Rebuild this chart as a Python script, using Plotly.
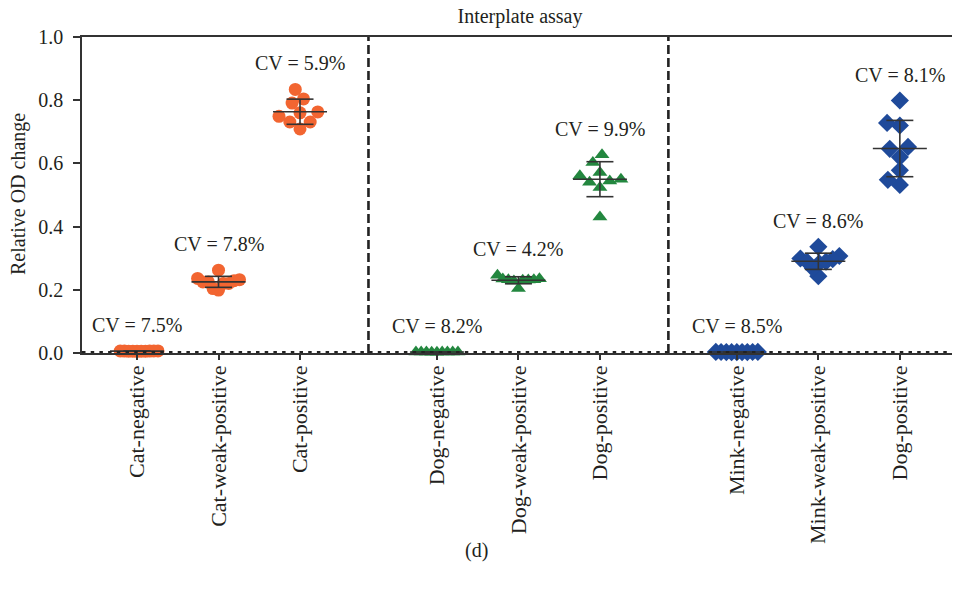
import numpy as np
import plotly.graph_objects as go

# ---------------- data ----------------
categories = ["Cat-negative", "Cat-weak-positive", "Cat-positive",
              "Dog-negative", "Dog-weak-positive", "Dog-positive",
              "Mink-negative", "Mink-weak-positive", "Dog-positive"]
group_sizes = [3, 3, 3]

cat_negative = [0.0062, 0.0058, 0.0066, 0.0055, 0.0060, 0.0064, 0.0052, 0.0059, 0.0063, 0.0057]
cat_weak_positive = [0.262, 0.236, 0.220, 0.225, 0.199, 0.225, 0.204, 0.229, 0.232, 0.220]
cat_positive = [0.834, 0.804, 0.791, 0.763, 0.760, 0.731, 0.731, 0.749, 0.709]
dog_negative = [0.0031, 0.0028, 0.0034, 0.0030, 0.0026, 0.0033, 0.0029, 0.0032, 0.0027]
dog_weak_positive = [0.246, 0.234, 0.232, 0.230, 0.204, 0.235, 0.232, 0.228, 0.231]
dog_positive = [0.627, 0.603, 0.571, 0.561, 0.544, 0.550, 0.540, 0.524, 0.430]
mink_negative = [0.0030, 0.0027, 0.0033, 0.0029, 0.0025, 0.0032, 0.0028, 0.0031, 0.0034]
mink_weak_positive = [0.336, 0.307, 0.284, 0.299, 0.243, 0.268, 0.289, 0.297, 0.289]
mink_dog_positive = [0.799, 0.720, 0.728, 0.646, 0.652, 0.620, 0.578, 0.532, 0.548]

series = [cat_negative, cat_weak_positive, cat_positive,
          dog_negative, dog_weak_positive, dog_positive,
          mink_negative, mink_weak_positive, mink_dog_positive]

cv_labels = ["CV = 7.5%", "CV = 7.8%", "CV = 5.9%",
             "CV = 8.2%", "CV = 4.2%", "CV = 9.9%",
             "CV = 8.5%", "CV = 8.6%", "CV = 8.1%"]

y_ticks = [0.0, 0.2, 0.4, 0.6, 0.8, 1.0]

# ---------------- layout constants ----------------
W, H = 953, 595
ML, MR, MT, MB = 82, 1, 37, 242
GROUP_GAP = 0.68
X_MIN, X_MAX = -0.675, 10.0
Y_MIN, Y_MAX = 0.0, 1.0

group_colors = ["#F26531", "#23873F", "#1F4A9A"]
group_symbols = ["circle", "triangle-up", "diamond"]
group_msize = [13, 13, 14]
FONT = "Liberation Serif"
TXT = "#231f20"
LINE = "#333333"

# category positions
positions = []
group_of = []
k = 0
for g, n in enumerate(group_sizes):
    for i in range(n):
        positions.append(k + g * GROUP_GAP)
        group_of.append(g)
        k += 1

px_x = (W - ML - MR) / (X_MAX - X_MIN)
px_y = (H - MT - MB) / (Y_MAX - Y_MIN)


def swarm(vals, dmin, limit):
    ys = np.asarray(vals) * px_y
    order = np.argsort(ys)
    placed = []
    offs = np.zeros(len(ys))
    for i in order:
        yi = ys[i]
        cands = [0.0]
        for xj, yj in placed:
            dy = abs(yi - yj)
            if dy < dmin:
                dx = np.sqrt(dmin ** 2 - dy ** 2)
                cands += [xj - dx, xj + dx]
        valid = [c for c in cands
                 if all((c - xj) ** 2 + (yi - yj) ** 2 >= dmin ** 2 - 1e-6 for xj, yj in placed)]
        best = min(valid, key=lambda c: (abs(c), c))
        offs[i] = best
        placed.append((best, yi))
    m = np.max(np.abs(offs))
    if m > limit:
        offs *= limit / m
    return offs / px_x


fig = go.Figure()

# points
for idx, vals in enumerate(series):
    g = group_of[idx]
    offs = swarm(vals, 13, 21)
    fig.add_trace(go.Scatter(
        x=positions[idx] + offs, y=vals, mode="markers",
        marker=dict(symbol=group_symbols[g], size=group_msize[g],
                    color=group_colors[g], line=dict(width=0)),
        cliponaxis=False, showlegend=False, hoverinfo="y"))

# mean +/- SD bars
MEAN_HW = 27 / px_x
CAP_HW = 13.5 / px_x
for idx, vals in enumerate(series):
    p = positions[idx]
    m = float(np.mean(vals))
    s = float(np.std(vals, ddof=1))
    xs = [p - MEAN_HW, p + MEAN_HW, None,
          p - CAP_HW, p + CAP_HW, None,
          p, p, None,
          p - CAP_HW, p + CAP_HW]
    ys = [m, m, None, m + s, m + s, None, m - s, m + s, None, m - s, m - s]
    fig.add_trace(go.Scatter(x=xs, y=ys, mode="lines",
                             line=dict(color=LINE, width=1.6),
                             cliponaxis=False, showlegend=False, hoverinfo="skip"))

# CV labels
for idx, vals in enumerate(series):
    fig.add_annotation(x=positions[idx], y=max(vals), text=cv_labels[idx],
                       showarrow=False, yshift=26, yanchor="middle",
                       font=dict(family=FONT, size=20, color=TXT))

# dashed separators between groups
start = 0
for g, n in enumerate(group_sizes[:-1]):
    last = positions[start + n - 1]
    first = positions[start + n]
    xm = (last + first) / 2
    fig.add_shape(type="line", xref="x", yref="y", x0=xm, x1=xm, y0=Y_MIN, y1=Y_MAX,
                  line=dict(color="#222222", width=2.6, dash="9px,4px"))
    start += n

# dotted decoration along the x axis
fig.add_shape(type="line", xref="paper", yref="y", x0=0, x1=1, y0=0, y1=0,
              line=dict(color="#222222", width=4, dash="3.5px,5.2px"), layer="above")

fig.update_layout(
    width=W, height=H,
    margin=dict(l=ML, r=MR, t=MT, b=MB, autoexpand=False),
    paper_bgcolor="white", plot_bgcolor="white",
    font=dict(family=FONT, color=TXT),
    title=dict(text="Interplate assay", x=520 / W, xref="container", xanchor="center",
               y=1 - 16 / H, yref="container", yanchor="middle",
               font=dict(family=FONT, size=20, color=TXT)),
    xaxis=dict(range=[X_MIN, X_MAX], tickmode="array", tickvals=positions, ticktext=categories,
               tickangle=-90, ticks="outside", ticklen=5, tickwidth=1.5, tickcolor=LINE,
               showline=True, linecolor=LINE, linewidth=1.5, mirror=True,
               showgrid=False, zeroline=False,
               tickfont=dict(family=FONT, size=22, color=TXT), ticklabelstandoff=-3),
    yaxis=dict(range=[Y_MIN, Y_MAX], tickmode="array", tickvals=y_ticks,
               ticktext=[f"{v:.1f}" for v in y_ticks],
               ticks="outside", ticklen=7, tickwidth=1.5, tickcolor=LINE,
               showline=True, linecolor=LINE, linewidth=1.5,
               showgrid=False, zeroline=False,
               tickfont=dict(family=FONT, size=20, color=TXT), ticklabelstandoff=6),
)

fig.add_annotation(xref="paper", yref="paper", x=(18 - ML) / (W - ML - MR),
                   y=(H - MB - 194) / (H - MT - MB), text="Relative OD change",
                   textangle=-90, showarrow=False, xanchor="center", yanchor="middle",
                   font=dict(family=FONT, size=20, color=TXT))
fig.add_annotation(xref="paper", yref="paper", x=(476 - ML) / (W - ML - MR),
                   y=(H - MB - 550) / (H - MT - MB), text="(d)",
                   showarrow=False, xanchor="center", yanchor="middle",
                   font=dict(family=FONT, size=20, color=TXT))

fig.write_html("out.html", config={"displayModeBar": False},
               post_script="document.body.style.margin='0px';")
